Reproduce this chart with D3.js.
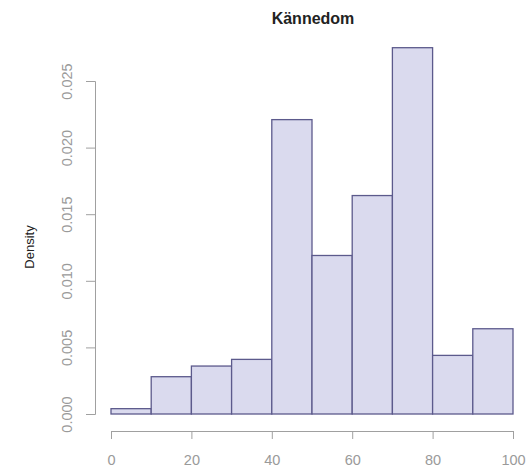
<!DOCTYPE html>
<html><head><meta charset="utf-8">
<script src="https://cdn.jsdelivr.net/npm/d3@7"></script>
<style>body{margin:0;background:#fff}svg{display:block}</style>
</head><body>
<script>
const binStarts = [0,10,20,30,40,50,60,70,80,90];
const binWidth = 10;
const densities = [0.0004,0.0028,0.0036,0.0041,0.0221,0.0119,0.0164,0.0275,0.0044,0.0064];
const xTicks = [0,20,40,60,80,100];
const yTicks = [0,0.005,0.010,0.015,0.020,0.025];
const title = "Kännedom";
const yLabel = "Density";

const W=530,H=474;
const svg=d3.select("body").append("svg").attr("width",W).attr("height",H);
const x=d3.scaleLinear().domain([0,100]).range([111,513]);
const y=d3.scaleLinear().domain([0,0.025]).range([414,81]);

svg.selectAll("rect.bar").data(binStarts).join("rect").attr("class","bar")
  .attr("x",d=>x(d)).attr("width",d=>x(d+binWidth)-x(d))
  .attr("y",(d,i)=>y(densities[i])).attr("height",(d,i)=>y(0)-y(densities[i]))
  .attr("fill","#dadaee").attr("stroke","#5c5a8c").attr("stroke-width",1.3);

const gx=svg.append("g").attr("transform","translate(0,431)")
  .call(d3.axisBottom(x).tickValues(xTicks).tickSize(8).tickPadding(16).tickFormat(d3.format("d")));
const gy=svg.append("g").attr("transform","translate(95,0)")
  .call(d3.axisLeft(y).tickValues(yTicks).tickSize(9).tickFormat(d3.format(".3f")));
[gx,gy].forEach(g=>{
  g.select(".domain").attr("stroke","#a0a0a0");
  g.selectAll(".tick line").attr("stroke","#a0a0a0");
  g.selectAll(".tick text").attr("fill","#9a9a9a").attr("font-family","Liberation Sans, Arial, sans-serif").attr("font-size",14.5);
});
gy.selectAll(".tick text")
  .each(function(d){
    d3.select(this).attr("x",null).attr("text-anchor","middle")
      .attr("transform",`translate(-28,0) rotate(-90)`).attr("dy","0.35em");
  });

svg.append("text").attr("x",313).attr("y",24).attr("text-anchor","middle")
  .attr("font-family","Liberation Sans, Arial, sans-serif").attr("font-weight","bold").attr("font-size",16)
  .attr("fill","#222").text(title);
svg.append("text").attr("transform","translate(34,247) rotate(-90)").attr("text-anchor","middle")
  .attr("font-family","Liberation Sans, Arial, sans-serif").attr("font-size",13).attr("fill","#222").text(yLabel);
</script>
</body></html>
